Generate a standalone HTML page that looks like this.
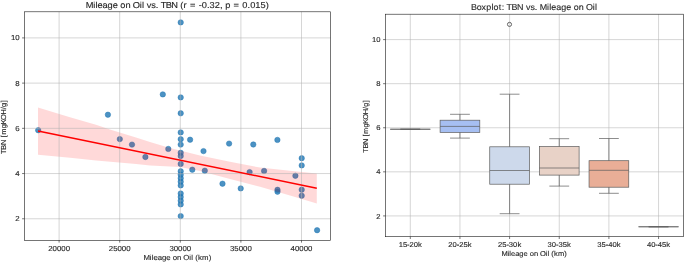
<!DOCTYPE html><html><head><meta charset="utf-8"><style>html,body{margin:0;padding:0;background:#fff;width:685px;height:262px;overflow:hidden}svg{display:block;will-change:transform}text{font-family:"Liberation Sans", sans-serif;fill:#262626;stroke:#262626;stroke-width:0.12px;text-rendering:geometricPrecision}</style></head><body>
<svg width="685" height="262" viewBox="0 0 685 262">
<rect width="685" height="262" fill="#fff"/>
<g>
<circle cx="38.20" cy="130.20" r="2.7" fill="#1f77b4" fill-opacity="0.8" stroke="#1f77b4" stroke-opacity="0.8" stroke-width="0.6"/>
<circle cx="107.90" cy="114.70" r="2.7" fill="#1f77b4" fill-opacity="0.8" stroke="#1f77b4" stroke-opacity="0.8" stroke-width="0.6"/>
<circle cx="162.80" cy="94.40" r="2.7" fill="#1f77b4" fill-opacity="0.8" stroke="#1f77b4" stroke-opacity="0.8" stroke-width="0.6"/>
<circle cx="119.80" cy="139.10" r="2.7" fill="#1f77b4" fill-opacity="0.8" stroke="#1f77b4" stroke-opacity="0.8" stroke-width="0.6"/>
<circle cx="132.00" cy="144.60" r="2.7" fill="#1f77b4" fill-opacity="0.8" stroke="#1f77b4" stroke-opacity="0.8" stroke-width="0.6"/>
<circle cx="145.40" cy="157.00" r="2.7" fill="#1f77b4" fill-opacity="0.8" stroke="#1f77b4" stroke-opacity="0.8" stroke-width="0.6"/>
<circle cx="168.30" cy="148.90" r="2.7" fill="#1f77b4" fill-opacity="0.8" stroke="#1f77b4" stroke-opacity="0.8" stroke-width="0.6"/>
<circle cx="180.70" cy="22.40" r="2.7" fill="#1f77b4" fill-opacity="0.8" stroke="#1f77b4" stroke-opacity="0.8" stroke-width="0.6"/>
<circle cx="180.70" cy="97.40" r="2.7" fill="#1f77b4" fill-opacity="0.8" stroke="#1f77b4" stroke-opacity="0.8" stroke-width="0.6"/>
<circle cx="180.70" cy="113.30" r="2.7" fill="#1f77b4" fill-opacity="0.8" stroke="#1f77b4" stroke-opacity="0.8" stroke-width="0.6"/>
<circle cx="180.70" cy="132.40" r="2.7" fill="#1f77b4" fill-opacity="0.8" stroke="#1f77b4" stroke-opacity="0.8" stroke-width="0.6"/>
<circle cx="180.70" cy="139.20" r="2.7" fill="#1f77b4" fill-opacity="0.8" stroke="#1f77b4" stroke-opacity="0.8" stroke-width="0.6"/>
<circle cx="180.70" cy="144.60" r="2.7" fill="#1f77b4" fill-opacity="0.8" stroke="#1f77b4" stroke-opacity="0.8" stroke-width="0.6"/>
<circle cx="180.70" cy="152.80" r="2.7" fill="#1f77b4" fill-opacity="0.8" stroke="#1f77b4" stroke-opacity="0.8" stroke-width="0.6"/>
<circle cx="180.70" cy="156.00" r="2.7" fill="#1f77b4" fill-opacity="0.8" stroke="#1f77b4" stroke-opacity="0.8" stroke-width="0.6"/>
<circle cx="180.70" cy="163.90" r="2.7" fill="#1f77b4" fill-opacity="0.8" stroke="#1f77b4" stroke-opacity="0.8" stroke-width="0.6"/>
<circle cx="180.70" cy="171.30" r="2.7" fill="#1f77b4" fill-opacity="0.8" stroke="#1f77b4" stroke-opacity="0.8" stroke-width="0.6"/>
<circle cx="180.70" cy="174.70" r="2.7" fill="#1f77b4" fill-opacity="0.8" stroke="#1f77b4" stroke-opacity="0.8" stroke-width="0.6"/>
<circle cx="180.70" cy="178.20" r="2.7" fill="#1f77b4" fill-opacity="0.8" stroke="#1f77b4" stroke-opacity="0.8" stroke-width="0.6"/>
<circle cx="180.70" cy="181.70" r="2.7" fill="#1f77b4" fill-opacity="0.8" stroke="#1f77b4" stroke-opacity="0.8" stroke-width="0.6"/>
<circle cx="180.70" cy="185.40" r="2.7" fill="#1f77b4" fill-opacity="0.8" stroke="#1f77b4" stroke-opacity="0.8" stroke-width="0.6"/>
<circle cx="180.70" cy="193.50" r="2.7" fill="#1f77b4" fill-opacity="0.8" stroke="#1f77b4" stroke-opacity="0.8" stroke-width="0.6"/>
<circle cx="180.70" cy="197.00" r="2.7" fill="#1f77b4" fill-opacity="0.8" stroke="#1f77b4" stroke-opacity="0.8" stroke-width="0.6"/>
<circle cx="180.70" cy="200.70" r="2.7" fill="#1f77b4" fill-opacity="0.8" stroke="#1f77b4" stroke-opacity="0.8" stroke-width="0.6"/>
<circle cx="180.70" cy="204.40" r="2.7" fill="#1f77b4" fill-opacity="0.8" stroke="#1f77b4" stroke-opacity="0.8" stroke-width="0.6"/>
<circle cx="180.70" cy="216.10" r="2.7" fill="#1f77b4" fill-opacity="0.8" stroke="#1f77b4" stroke-opacity="0.8" stroke-width="0.6"/>
<circle cx="190.10" cy="139.70" r="2.7" fill="#1f77b4" fill-opacity="0.8" stroke="#1f77b4" stroke-opacity="0.8" stroke-width="0.6"/>
<circle cx="192.30" cy="169.70" r="2.7" fill="#1f77b4" fill-opacity="0.8" stroke="#1f77b4" stroke-opacity="0.8" stroke-width="0.6"/>
<circle cx="203.50" cy="151.10" r="2.7" fill="#1f77b4" fill-opacity="0.8" stroke="#1f77b4" stroke-opacity="0.8" stroke-width="0.6"/>
<circle cx="204.80" cy="170.70" r="2.7" fill="#1f77b4" fill-opacity="0.8" stroke="#1f77b4" stroke-opacity="0.8" stroke-width="0.6"/>
<circle cx="222.50" cy="183.70" r="2.7" fill="#1f77b4" fill-opacity="0.8" stroke="#1f77b4" stroke-opacity="0.8" stroke-width="0.6"/>
<circle cx="229.10" cy="143.60" r="2.7" fill="#1f77b4" fill-opacity="0.8" stroke="#1f77b4" stroke-opacity="0.8" stroke-width="0.6"/>
<circle cx="240.70" cy="188.40" r="2.7" fill="#1f77b4" fill-opacity="0.8" stroke="#1f77b4" stroke-opacity="0.8" stroke-width="0.6"/>
<circle cx="249.60" cy="172.10" r="2.7" fill="#1f77b4" fill-opacity="0.8" stroke="#1f77b4" stroke-opacity="0.8" stroke-width="0.6"/>
<circle cx="253.30" cy="144.50" r="2.7" fill="#1f77b4" fill-opacity="0.8" stroke="#1f77b4" stroke-opacity="0.8" stroke-width="0.6"/>
<circle cx="264.10" cy="170.90" r="2.7" fill="#1f77b4" fill-opacity="0.8" stroke="#1f77b4" stroke-opacity="0.8" stroke-width="0.6"/>
<circle cx="277.40" cy="139.90" r="2.7" fill="#1f77b4" fill-opacity="0.8" stroke="#1f77b4" stroke-opacity="0.8" stroke-width="0.6"/>
<circle cx="277.50" cy="189.80" r="2.7" fill="#1f77b4" fill-opacity="0.8" stroke="#1f77b4" stroke-opacity="0.8" stroke-width="0.6"/>
<circle cx="277.50" cy="191.70" r="2.7" fill="#1f77b4" fill-opacity="0.8" stroke="#1f77b4" stroke-opacity="0.8" stroke-width="0.6"/>
<circle cx="295.40" cy="175.80" r="2.7" fill="#1f77b4" fill-opacity="0.8" stroke="#1f77b4" stroke-opacity="0.8" stroke-width="0.6"/>
<circle cx="301.70" cy="158.20" r="2.7" fill="#1f77b4" fill-opacity="0.8" stroke="#1f77b4" stroke-opacity="0.8" stroke-width="0.6"/>
<circle cx="301.70" cy="165.40" r="2.7" fill="#1f77b4" fill-opacity="0.8" stroke="#1f77b4" stroke-opacity="0.8" stroke-width="0.6"/>
<circle cx="301.70" cy="189.70" r="2.7" fill="#1f77b4" fill-opacity="0.8" stroke="#1f77b4" stroke-opacity="0.8" stroke-width="0.6"/>
<circle cx="301.70" cy="195.70" r="2.7" fill="#1f77b4" fill-opacity="0.8" stroke="#1f77b4" stroke-opacity="0.8" stroke-width="0.6"/>
<circle cx="317.10" cy="230.20" r="2.7" fill="#1f77b4" fill-opacity="0.8" stroke="#1f77b4" stroke-opacity="0.8" stroke-width="0.6"/>
<polygon points="38.0,107.6 70.0,117.3 96.0,124.7 110.0,129.6 136.0,137.5 150.0,142.0 170.0,148.0 200.0,155.5 230.0,161.7 260.0,167.6 290.0,170.8 316.8,173.4 316.8,203.6 290.0,195.4 260.0,186.8 230.0,178.9 200.0,171.0 180.0,167.0 150.0,165.4 136.0,164.1 96.0,160.5 70.0,157.7 38.0,154.8" fill="#ff0000" fill-opacity="0.15"/>
<line x1="59.10" y1="11.80" x2="59.10" y2="240.30" stroke="#b0b0b0" stroke-width="0.70" stroke-opacity="0.75"/>
<line x1="119.70" y1="11.80" x2="119.70" y2="240.30" stroke="#b0b0b0" stroke-width="0.70" stroke-opacity="0.75"/>
<line x1="180.30" y1="11.80" x2="180.30" y2="240.30" stroke="#b0b0b0" stroke-width="0.70" stroke-opacity="0.75"/>
<line x1="240.90" y1="11.80" x2="240.90" y2="240.30" stroke="#b0b0b0" stroke-width="0.70" stroke-opacity="0.75"/>
<line x1="301.50" y1="11.80" x2="301.50" y2="240.30" stroke="#b0b0b0" stroke-width="0.70" stroke-opacity="0.75"/>
<line x1="24.40" y1="218.78" x2="330.50" y2="218.78" stroke="#b0b0b0" stroke-width="0.70" stroke-opacity="0.75"/>
<line x1="24.40" y1="173.56" x2="330.50" y2="173.56" stroke="#b0b0b0" stroke-width="0.70" stroke-opacity="0.75"/>
<line x1="24.40" y1="128.34" x2="330.50" y2="128.34" stroke="#b0b0b0" stroke-width="0.70" stroke-opacity="0.75"/>
<line x1="24.40" y1="83.12" x2="330.50" y2="83.12" stroke="#b0b0b0" stroke-width="0.70" stroke-opacity="0.75"/>
<line x1="24.40" y1="37.90" x2="330.50" y2="37.90" stroke="#b0b0b0" stroke-width="0.70" stroke-opacity="0.75"/>
<line x1="38.00" y1="131.10" x2="316.80" y2="188.20" stroke="#ff0000" stroke-width="1.50" />
<rect x="24.40" y="11.80" width="306.10" height="228.50" fill="none" stroke="#1a1a1a" stroke-width="0.60"/>
<line x1="59.10" y1="240.30" x2="59.10" y2="242.60" stroke="#1a1a1a" stroke-width="0.60" />
<text transform="translate(0,251.00) scale(1.0792,1)" x="44.67 48.70 52.74 56.78 60.82" y="0" font-size="7.26" >20000</text>
<line x1="119.70" y1="240.30" x2="119.70" y2="242.60" stroke="#1a1a1a" stroke-width="0.60" />
<text transform="translate(0,251.00) scale(1.0792,1)" x="100.82 104.85 108.89 112.93 116.97" y="0" font-size="7.26" >25000</text>
<line x1="180.30" y1="240.30" x2="180.30" y2="242.60" stroke="#1a1a1a" stroke-width="0.60" />
<text transform="translate(0,251.00) scale(1.0792,1)" x="156.97 161.01 165.04 169.08 173.12" y="0" font-size="7.26" >30000</text>
<line x1="240.90" y1="240.30" x2="240.90" y2="242.60" stroke="#1a1a1a" stroke-width="0.60" />
<text transform="translate(0,251.00) scale(1.0792,1)" x="213.12 217.16 221.20 225.23 229.27" y="0" font-size="7.26" >35000</text>
<line x1="301.50" y1="240.30" x2="301.50" y2="242.60" stroke="#1a1a1a" stroke-width="0.60" />
<text transform="translate(0,251.00) scale(1.0792,1)" x="269.27 273.31 277.35 281.38 285.42" y="0" font-size="7.26" >40000</text>
<line x1="22.10" y1="218.78" x2="24.40" y2="218.78" stroke="#1a1a1a" stroke-width="0.60" />
<text transform="translate(0,221.36) scale(1.0792,1)" x="14.16" y="0" font-size="7.26" >2</text>
<line x1="22.10" y1="173.56" x2="24.40" y2="173.56" stroke="#1a1a1a" stroke-width="0.60" />
<text transform="translate(0,176.14) scale(1.0792,1)" x="14.16" y="0" font-size="7.26" >4</text>
<line x1="22.10" y1="128.34" x2="24.40" y2="128.34" stroke="#1a1a1a" stroke-width="0.60" />
<text transform="translate(0,130.92) scale(1.0792,1)" x="14.16" y="0" font-size="7.26" >6</text>
<line x1="22.10" y1="83.12" x2="24.40" y2="83.12" stroke="#1a1a1a" stroke-width="0.60" />
<text transform="translate(0,85.70) scale(1.0792,1)" x="14.16" y="0" font-size="7.26" >8</text>
<line x1="22.10" y1="37.90" x2="24.40" y2="37.90" stroke="#1a1a1a" stroke-width="0.60" />
<text transform="translate(0,40.48) scale(1.0792,1)" x="10.12 14.16" y="0" font-size="7.26" >10</text>
<text transform="translate(0,259.50) scale(1.0634,1)" x="134.87 140.82 142.63 144.31 148.31 152.37 156.43 160.49 162.49 166.55 170.66 172.42 177.93 179.74 181.47 183.57 186.11 189.94 196.22" y="0" font-size="7.34" >Mileage on Oil (km)</text>
<text transform="translate(6.30,126.90) rotate(-90) scale(1.0270,1)" x="-26.41 -22.28 -17.70 -12.53 -10.17 -7.64 -1.27 2.63 6.68 12.01 17.26 19.49 23.92" y="0" font-size="7.26" >TBN [mgKOH/g]</text>
<text transform="translate(0,7.70) scale(1.0755,1)" x="79.65 86.62 88.73 90.67 95.33 100.07 104.81 109.55 111.88 116.60 121.41 123.44 129.89 132.00 134.01 136.51 140.73 144.87 147.28 149.36 154.04 159.24 165.21 167.66 170.70 173.70 176.76 182.47 184.81 187.62 192.45 194.86 199.69 204.51 206.93 209.34 214.15 217.21 222.92 225.34 230.16 232.58 237.41 242.23 247.09" y="0" font-size="8.65" >Mileage on Oil vs. TBN (r = -0.32, p = 0.015)</text>
<line x1="410.30" y1="14.20" x2="410.30" y2="236.70" stroke="#b0b0b0" stroke-width="0.70" stroke-opacity="0.75"/>
<line x1="459.95" y1="14.20" x2="459.95" y2="236.70" stroke="#b0b0b0" stroke-width="0.70" stroke-opacity="0.75"/>
<line x1="509.60" y1="14.20" x2="509.60" y2="236.70" stroke="#b0b0b0" stroke-width="0.70" stroke-opacity="0.75"/>
<line x1="559.25" y1="14.20" x2="559.25" y2="236.70" stroke="#b0b0b0" stroke-width="0.70" stroke-opacity="0.75"/>
<line x1="608.90" y1="14.20" x2="608.90" y2="236.70" stroke="#b0b0b0" stroke-width="0.70" stroke-opacity="0.75"/>
<line x1="658.55" y1="14.20" x2="658.55" y2="236.70" stroke="#b0b0b0" stroke-width="0.70" stroke-opacity="0.75"/>
<line x1="385.40" y1="215.92" x2="683.40" y2="215.92" stroke="#b0b0b0" stroke-width="0.70" stroke-opacity="0.75"/>
<line x1="385.40" y1="171.84" x2="683.40" y2="171.84" stroke="#b0b0b0" stroke-width="0.70" stroke-opacity="0.75"/>
<line x1="385.40" y1="127.76" x2="683.40" y2="127.76" stroke="#b0b0b0" stroke-width="0.70" stroke-opacity="0.75"/>
<line x1="385.40" y1="83.68" x2="683.40" y2="83.68" stroke="#b0b0b0" stroke-width="0.70" stroke-opacity="0.75"/>
<line x1="385.40" y1="39.60" x2="683.40" y2="39.60" stroke="#b0b0b0" stroke-width="0.70" stroke-opacity="0.75"/>
<rect x="390.45" y="129.20" width="39.70" height="0.01" fill="#7891dd" stroke="#5c5c5c" stroke-width="0.70"/>
<line x1="410.30" y1="129.20" x2="410.30" y2="129.20" stroke="#5c5c5c" stroke-width="0.70" />
<line x1="410.30" y1="129.20" x2="410.30" y2="129.20" stroke="#5c5c5c" stroke-width="0.70" />
<line x1="400.40" y1="129.20" x2="420.20" y2="129.20" stroke="#5c5c5c" stroke-width="0.70" />
<line x1="400.40" y1="129.20" x2="420.20" y2="129.20" stroke="#5c5c5c" stroke-width="0.70" />
<line x1="390.45" y1="129.20" x2="430.15" y2="129.20" stroke="#5c5c5c" stroke-width="0.70" />
<rect x="440.10" y="120.20" width="39.70" height="12.20" fill="#a6bff2" stroke="#5c5c5c" stroke-width="0.70"/>
<line x1="459.95" y1="114.30" x2="459.95" y2="120.20" stroke="#5c5c5c" stroke-width="0.70" />
<line x1="459.95" y1="132.40" x2="459.95" y2="138.10" stroke="#5c5c5c" stroke-width="0.70" />
<line x1="450.05" y1="114.30" x2="469.85" y2="114.30" stroke="#5c5c5c" stroke-width="0.70" />
<line x1="450.05" y1="138.10" x2="469.85" y2="138.10" stroke="#5c5c5c" stroke-width="0.70" />
<line x1="440.10" y1="126.40" x2="479.80" y2="126.40" stroke="#5c5c5c" stroke-width="0.70" />
<rect x="489.75" y="146.80" width="39.70" height="37.40" fill="#cdd9eb" stroke="#5c5c5c" stroke-width="0.70"/>
<line x1="509.60" y1="94.20" x2="509.60" y2="146.80" stroke="#5c5c5c" stroke-width="0.70" />
<line x1="509.60" y1="184.20" x2="509.60" y2="213.70" stroke="#5c5c5c" stroke-width="0.70" />
<line x1="499.70" y1="94.20" x2="519.50" y2="94.20" stroke="#5c5c5c" stroke-width="0.70" />
<line x1="499.70" y1="213.70" x2="519.50" y2="213.70" stroke="#5c5c5c" stroke-width="0.70" />
<line x1="489.75" y1="170.50" x2="529.45" y2="170.50" stroke="#5c5c5c" stroke-width="0.70" />
<rect x="539.40" y="146.50" width="39.70" height="28.60" fill="#e8d2c7" stroke="#5c5c5c" stroke-width="0.70"/>
<line x1="559.25" y1="138.70" x2="559.25" y2="146.50" stroke="#5c5c5c" stroke-width="0.70" />
<line x1="559.25" y1="175.10" x2="559.25" y2="186.10" stroke="#5c5c5c" stroke-width="0.70" />
<line x1="549.35" y1="138.70" x2="569.15" y2="138.70" stroke="#5c5c5c" stroke-width="0.70" />
<line x1="549.35" y1="186.10" x2="569.15" y2="186.10" stroke="#5c5c5c" stroke-width="0.70" />
<line x1="539.40" y1="168.00" x2="579.10" y2="168.00" stroke="#5c5c5c" stroke-width="0.70" />
<rect x="589.05" y="160.70" width="39.70" height="26.50" fill="#e9ae97" stroke="#5c5c5c" stroke-width="0.70"/>
<line x1="608.90" y1="138.50" x2="608.90" y2="160.70" stroke="#5c5c5c" stroke-width="0.70" />
<line x1="608.90" y1="187.20" x2="608.90" y2="193.30" stroke="#5c5c5c" stroke-width="0.70" />
<line x1="599.00" y1="138.50" x2="618.80" y2="138.50" stroke="#5c5c5c" stroke-width="0.70" />
<line x1="599.00" y1="193.30" x2="618.80" y2="193.30" stroke="#5c5c5c" stroke-width="0.70" />
<line x1="589.05" y1="170.30" x2="628.75" y2="170.30" stroke="#5c5c5c" stroke-width="0.70" />
<rect x="638.70" y="226.80" width="39.70" height="0.01" fill="#d07564" stroke="#5c5c5c" stroke-width="0.70"/>
<line x1="658.55" y1="226.80" x2="658.55" y2="226.80" stroke="#5c5c5c" stroke-width="0.70" />
<line x1="658.55" y1="226.80" x2="658.55" y2="226.80" stroke="#5c5c5c" stroke-width="0.70" />
<line x1="648.65" y1="226.80" x2="668.45" y2="226.80" stroke="#5c5c5c" stroke-width="0.70" />
<line x1="648.65" y1="226.80" x2="668.45" y2="226.80" stroke="#5c5c5c" stroke-width="0.70" />
<line x1="638.70" y1="226.80" x2="678.40" y2="226.80" stroke="#5c5c5c" stroke-width="0.70" />
<circle cx="509.50" cy="24.4" r="2.05" fill="none" stroke="#5c5c5c" stroke-width="0.95"/>
<rect x="385.40" y="14.20" width="298.00" height="222.50" fill="none" stroke="#1a1a1a" stroke-width="0.60"/>
<line x1="410.30" y1="236.70" x2="410.30" y2="239.00" stroke="#1a1a1a" stroke-width="0.60" />
<text transform="translate(0,246.70) scale(1.0752,1)" x="370.78 374.73 378.62 380.93 384.88 388.85" y="0" font-size="7.08" >15-20k</text>
<line x1="459.95" y1="236.70" x2="459.95" y2="239.00" stroke="#1a1a1a" stroke-width="0.60" />
<text transform="translate(0,246.70) scale(1.0752,1)" x="416.96 420.91 424.80 427.10 431.06 435.03" y="0" font-size="7.08" >20-25k</text>
<line x1="509.60" y1="236.70" x2="509.60" y2="239.00" stroke="#1a1a1a" stroke-width="0.60" />
<text transform="translate(0,246.70) scale(1.0752,1)" x="463.13 467.08 470.97 473.28 477.23 481.21" y="0" font-size="7.08" >25-30k</text>
<line x1="559.25" y1="236.70" x2="559.25" y2="239.00" stroke="#1a1a1a" stroke-width="0.60" />
<text transform="translate(0,246.70) scale(1.0752,1)" x="509.31 513.26 517.15 519.46 523.41 527.38" y="0" font-size="7.08" >30-35k</text>
<line x1="608.90" y1="236.70" x2="608.90" y2="239.00" stroke="#1a1a1a" stroke-width="0.60" />
<text transform="translate(0,246.70) scale(1.0752,1)" x="555.49 559.44 563.33 565.63 569.59 573.56" y="0" font-size="7.08" >35-40k</text>
<line x1="658.55" y1="236.70" x2="658.55" y2="239.00" stroke="#1a1a1a" stroke-width="0.60" />
<text transform="translate(0,246.70) scale(1.0752,1)" x="601.66 605.61 609.50 611.81 615.76 619.74" y="0" font-size="7.08" >40-45k</text>
<line x1="383.10" y1="215.92" x2="385.40" y2="215.92" stroke="#1a1a1a" stroke-width="0.60" />
<text transform="translate(0,218.50) scale(1.0792,1)" x="348.76" y="0" font-size="7.08" >2</text>
<line x1="383.10" y1="171.84" x2="385.40" y2="171.84" stroke="#1a1a1a" stroke-width="0.60" />
<text transform="translate(0,174.42) scale(1.0792,1)" x="348.76" y="0" font-size="7.08" >4</text>
<line x1="383.10" y1="127.76" x2="385.40" y2="127.76" stroke="#1a1a1a" stroke-width="0.60" />
<text transform="translate(0,130.34) scale(1.0792,1)" x="348.76" y="0" font-size="7.08" >6</text>
<line x1="383.10" y1="83.68" x2="385.40" y2="83.68" stroke="#1a1a1a" stroke-width="0.60" />
<text transform="translate(0,86.26) scale(1.0792,1)" x="348.76" y="0" font-size="7.08" >8</text>
<line x1="383.10" y1="39.60" x2="385.40" y2="39.60" stroke="#1a1a1a" stroke-width="0.60" />
<text transform="translate(0,42.18) scale(1.0792,1)" x="344.82 348.76" y="0" font-size="7.08" >10</text>
<text transform="translate(0,255.90) scale(1.0634,1)" x="471.50 477.25 478.99 480.61 484.47 488.39 492.31 496.23 498.16 502.08 506.05 507.75 513.06 514.81 516.48 518.51 520.96 524.66 530.72" y="0" font-size="7.08" >Mileage on Oil (km)</text>
<text transform="translate(367.70,126.30) rotate(-90) scale(1.0270,1)" x="-25.75 -21.73 -17.26 -12.22 -9.92 -7.45 -1.24 2.57 6.51 11.71 16.83 19.00 23.32" y="0" font-size="7.08" >TBN [mgKOH/g]</text>
<text transform="translate(0,10.10) scale(1.0480,1)" x="449.44 454.89 459.51 463.98 468.90 470.89 475.93 478.72 481.23 483.38 488.11 493.38 499.36 501.90 506.17 510.34 512.77 514.94 521.92 524.05 526.05 530.76 535.55 540.34 545.11 547.49 552.26 557.10 559.21 565.66 567.79" y="0" font-size="8.52" >Boxplot: TBN vs. Mileage on Oil</text>
</g></svg></body></html>
